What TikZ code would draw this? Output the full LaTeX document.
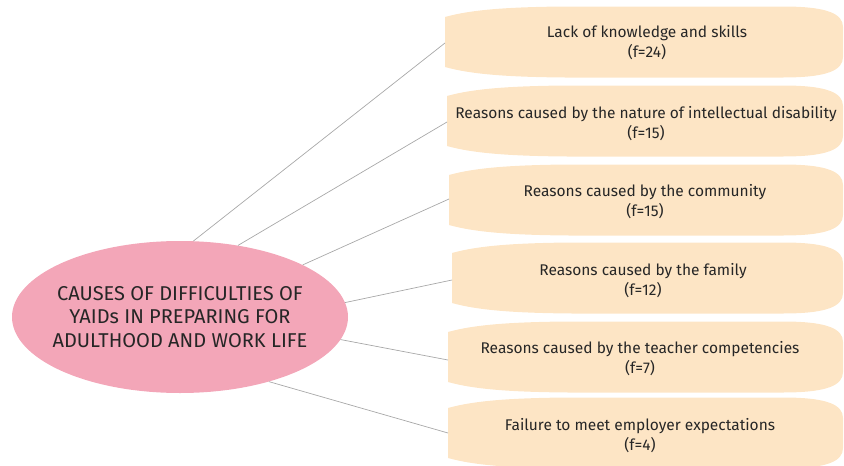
\documentclass[tikz,border=0pt]{standalone}
\usepackage{fontspec}
\setmainfont{Fira Sans}
\usetikzlibrary{shapes.geometric}
\definecolor{pinkfill}{HTML}{F3A6B8}
\definecolor{peach}{HTML}{FDE5C5}
\definecolor{txt}{HTML}{262626}
\definecolor{linegray}{HTML}{A8A8A8}
\tikzset{
  causebox/.style={fill=peach, draw=none},
  causetext/.style={text=txt, align=center, font=\fontsize{15.5}{20}\selectfont, inner sep=0pt},
  roottext/.style={text=txt, align=center, font=\fontsize{20}{23.5}\selectfont, inner sep=0pt},
  link/.style={draw=linegray, line width=0.7pt},
}
\newcommand{\causeshape}[3]{% L, R, c
  \path[causebox] (#1,#3-25) .. controls (#1+25,#3-32) and (#1+60,#3-35) .. (#1+120,#3-35.5)
    -- (#2-60,#3-35.5) .. controls (#2-15,#3-35.5) and (#2,#3-28) .. (#2,#3-15)
    -- (#2,#3+15) .. controls (#2,#3+28) and (#2-15,#3+35.5) .. (#2-60,#3+35.5)
    -- (#1+120,#3+35.5) .. controls (#1+60,#3+35) and (#1+25,#3+32) .. (#1,#3+25) -- cycle;
}
\begin{document}
\begin{tikzpicture}[x=1pt,y=-1pt]
\useasboundingbox (0,0) rectangle (844,466);
% boxes
\causeshape{445}{843}{42}
\causeshape{447}{843}{121}
\causeshape{449}{843}{200}
\causeshape{452}{843}{278}
\causeshape{448}{843}{357}
\causeshape{448}{843}{433}
\coordinate (b1w) at (445,43);
\coordinate (b2w) at (447,122);
\coordinate (b3w) at (449,199);
\coordinate (b4w) at (452,280);
\coordinate (b5w) at (448,360);
\coordinate (b6w) at (448,433);
\node[causetext] (b1) at (647,43) {Lack of knowledge and skills\\(f=24)};
\node[causetext] (b2) at (646,123.5) {Reasons caused by the nature of intellectual disability\\(f=15)};
\node[causetext] (b3) at (645,201.5) {Reasons caused by the community\\(f=15)};
\node[causetext] (b4) at (643,280.5) {Reasons caused by the family\\(f=12)};
\node[causetext] (b5) at (640,358.5) {Reasons caused by the teacher competencies\\(f=7)};
\node[causetext] (b6) at (640,435.5) {Failure to meet employer expectations\\(f=4)};
% root
\node[ellipse, fill=pinkfill, draw=none, minimum width=336pt, minimum height=152pt, inner sep=0pt] (root) at (180,317) {};
\node[roottext] (rootlabel) at (root) {CAUSES OF DIFFICULTIES OF\\YAIDs IN PREPARING FOR\\ADULTHOOD AND WORK LIFE};
% connectors
\draw[link] (root.80) -- (b1w);
\draw[link] (root.51) -- (b2w);
\draw[link] (root.23) -- (b3w);
\draw[link] (root.5) -- (b4w);
\draw[link] (root.-8) -- (b5w);
\draw[link] (root.-36) -- (b6w);
\end{tikzpicture}
\end{document}
